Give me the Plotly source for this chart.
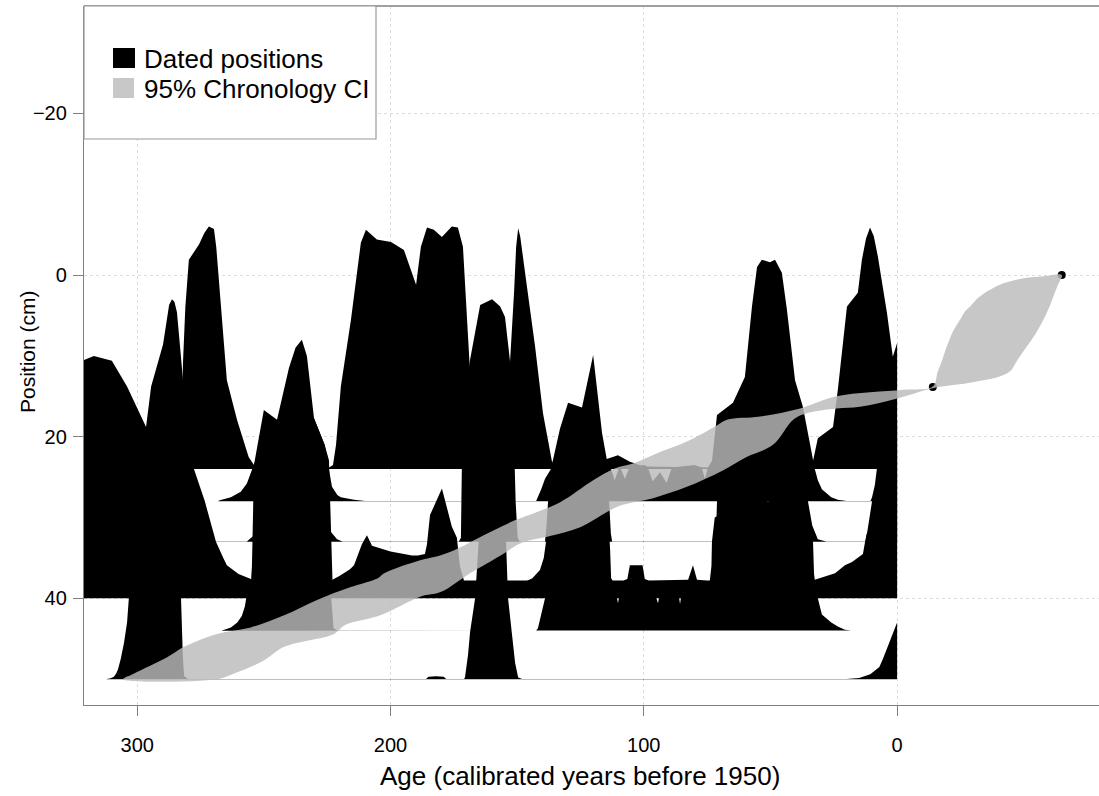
import plotly.graph_objects as go

# ---------------- data ----------------
# Dated positions (cm) and their calibrated-age densities.
# Each list holds (age in cal yr BP, density height in cm of plot units).
date_positions = [24, 28, 33, 38, 40, 44, 50]

dens_24 = [(321, 0.03), (284, 0.03), (282.5, 6), (281.9, 13.3), (281, 20), (279.6, 25.9), (275.6, 27.8),
           (273.5, 29.2), (271.7, 30), (269.7, 29.7), (268.8, 27.5), (267.7, 23.4), (264.6, 11),
           (260.6, 6.1), (256, 1.5), (253.5, 0.3), (251, 0.03), (225, 0.03), (222.7, 0.5), (221.5, 3),
           (219.6, 10.2), (215.6, 18.5), (211.7, 28), (209.7, 29.6), (205.4, 28.4), (199.8, 28.1),
           (194.7, 27.1), (189.9, 22.8), (188.0, 27.5), (185.6, 29.9), (182.9, 29.6), (179.7, 28.7),
           (175.8, 30), (173.4, 29.9), (171.4, 27.5), (168.6, 12), (166, 4), (163, 1), (156, 0.5),
           (154.5, 1), (152.8, 13.3), (151.2, 22), (150.4, 27.5), (149.6, 29.8), (148.8, 28.8),
           (146.1, 22.5), (142.9, 15.1), (139.8, 6.9), (136.3, 1), (135, 0.3), (133, 0.03),
           (118, 0.03), (116.1, 1.1), (110.2, 1.7), (105.5, 0.9), (100, 0.3), (75, 0.2), (34.5, 0.03),
           (33.2, 1.0), (31.3, 3.8), (25.3, 5.2), (23.4, 9.8), (19.8, 20.1), (15.5, 21.8), (13.9, 25.9),
           (12.3, 28.5), (10.7, 29.9), (9.2, 28.8), (7.6, 26.3), (4.0, 19.3), (1.7, 13.9), (0, 15.6)]

dens_28 = [(268, 0.03), (267.4, 0.15), (263, 0.5), (259.1, 1.2), (256.7, 2.2), (255.1, 3.5), (254, 4.5),
           (250, 8), (240, 10), (235, 12), (230.2, 10.3), (226, 7), (224.3, 4.2), (223.1, 1.8),
           (221, 0.8), (219.6, 0.5), (214.4, 0.2), (210, 0.03), (142.5, 0.03), (141.8, 0.5), (140.5, 1.5),
           (139, 2.8), (137.5, 3.6), (136.3, 4.2), (133, 4.8), (124, 5), (116.5, 5), (113.5, 4.6),
           (111.5, 2.6), (109.5, 4.4), (107.5, 2.8), (105.5, 4.3), (99.6, 4.5), (98.4, 4.2), (96.5, 2.5),
           (93.6, 3.6), (91, 2.3), (88.9, 4.2), (80, 4.5), (77.1, 4.2), (75.9, 2.8), (74.7, 4.2),
           (73.1, 5), (71.9, 8), (71.1, 10.7), (64.8, 12.2), (60.1, 15.4), (57.3, 24.1), (55.3, 29),
           (53.4, 29.9), (50.2, 29.6), (48.2, 29.9), (45.5, 28.3), (43.5, 23.7), (40.3, 15), (37.2, 11.7),
           (33.2, 5.1), (32.5, 4), (31.3, 2.6), (29.7, 1.5), (26, 0.5), (23.4, 0.2), (20, 0.03),
           (10.5, 0.03), (9.9, 0.5), (8.8, 2), (8.0, 4), (7, 6), (4, 8), (0, 10)]

dens_33 = [(321, 2), (310, 3), (304, 6), (296.5, 14.2), (294.5, 19.2), (289.8, 24.4), (287.4, 29.3),
           (286.3, 30), (285.3, 29.7), (284.3, 28.4), (283.5, 25.6), (282.7, 23), (281.9, 20), (281, 12),
           (280, 6), (277.6, 4), (274, 2), (272, 0.3), (270, 0.03), (256.7, 0.03), (254.7, 0.6),
           (252.8, 1.1), (251.6, 3), (251.2, 5), (248, 8), (240, 10), (230, 9), (228.2, 5), (225, 2.5),
           (223.5, 1.2), (221.1, 0.3), (219, 0.03), (173, 0.03), (172.2, 0.5), (171.8, 10), (170.5, 18),
           (168.6, 22.5), (166.6, 25.8), (164.6, 29.3), (159.9, 30), (156.7, 29.1), (154.8, 27.8),
           (152.8, 22.3), (151.2, 12), (150.6, 5), (149.8, 0.5), (149, 0.03), (139, 0.03), (138.4, 2),
           (137.8, 5), (136.3, 9.5), (133.1, 14), (129.9, 17.2), (124.4, 16.6), (122, 20), (120, 23.1),
           (116.5, 13.5), (114.5, 10), (113.7, 5), (113.0, 1), (112.5, 0.03), (71.6, 0.03), (71.1, 5),
           (70, 8), (60, 10), (52, 8), (51, 3.4), (50, 8), (40, 9), (35.2, 5), (33.5, 2), (31.3, 0.3),
           (28, 0.03), (12.5, 0.03), (11.9, 1), (10.5, 4), (9.9, 5), (8, 7), (0, 9)]

dens_38 = [(321, 1), (290, 1), (275, 0.5), (260, 0.03), (255.1, 0.03), (254.7, 2), (254.3, 8),
           (253.9, 14.5), (250, 21.3), (244.8, 20.1), (240.1, 26.5), (237.5, 29), (235, 30), (233, 28),
           (230.2, 20.3), (226, 17), (224.3, 15.1), (223.7, 8), (223.3, 2), (222.9, 0.2), (220, 0.03),
           (147, 0.03), (144, 0.5), (141, 1.5), (139.5, 3), (138.6, 5), (136, 8), (125, 10), (118, 10),
           (114, 8), (113.3, 4), (112.9, 0.5), (112, 0.03), (74, 0.03), (73.3, 2), (73.1, 5), (72, 8),
           (60, 10), (45, 10), (36, 8), (33.5, 6), (33.2, 5), (32.8, 1), (32.5, 0.3), (24.5, 1.1),
           (20.6, 2.1), (17.8, 2.5), (13.5, 3.5), (12.7, 4.9), (12, 6), (8, 8), (0, 10)]

dens_40 = [(321, 29.5), (317.1, 30), (310, 29.4), (304, 26.2), (296.5, 21.2), (290, 19.5), (282, 18),
           (277.6, 16), (273.3, 12), (268.9, 7), (266, 5), (264.6, 4.1), (260, 3), (255.1, 2.4),
           (245, 2.3), (230, 2.2), (223.5, 2.2), (220, 2.8), (216, 3.6), (214.4, 4.1), (211.3, 6.7),
           (209.3, 7.8), (207.3, 6.5), (200, 5.8), (191.5, 5.3), (189.2, 5.3), (186.4, 5.5),
           (185.6, 6.7), (184.4, 10.3), (179.7, 13.6), (175.8, 8.9), (173.8, 7.5), (172.6, 4), (171, 2.2),
           (108, 2.2), (106.5, 2.4), (105.5, 4.1), (100.5, 4.1), (99.6, 2.4), (98, 2.2), (82.5, 2.3),
           (80.6, 4.1), (79, 2.3), (75, 2.2), (0, 2.2)]

dens_44 = [(266.5, 0.03), (265.8, 0.1), (263, 0.4), (260.5, 1.0), (258.7, 1.8), (257.5, 3), (256.7, 4.5),
           (255, 6), (250, 8), (240, 9), (230, 8), (225, 6), (223.5, 4.5), (222.9, 2), (222.5, 0.3),
           (221, 0.03), (142.5, 0.03), (141.8, 0.3), (140.8, 1.5), (139.6, 3), (139, 4), (137, 5),
           (125, 5.5), (113, 5), (111, 4.8), (110.2, 3.4), (109.4, 4.8), (96, 5), (94.4, 3.4), (93.5, 5),
           (86.5, 5), (85.7, 3.3), (84.9, 5), (60, 6), (40, 6), (33, 5), (31.3, 4), (29.7, 2), (26, 1),
           (23.4, 0.5), (20.6, 0.1), (18, 0.03), (0, 0.03)]

dens_50 = [(312, 0.03), (310.5, 0.1), (309.2, 0.3), (308.3, 0.7), (307.6, 1.2), (306.5, 2.5), (305.2, 4.5),
           (304, 7), (303.3, 10), (300, 18), (295, 26), (291, 30), (287, 27), (284.5, 20), (283.3, 13),
           (282.7, 10), (282.0, 3), (281.5, 0.4), (280, 0.03), (186, 0.03), (185, 0.3), (182, 0.35),
           (179, 0.3), (178, 0.03), (171, 0.03), (170.6, 0.2), (169.4, 3), (168.6, 5.8), (166.6, 10),
           (165, 18), (163, 25), (160, 28), (156, 26), (154.5, 18), (153.6, 10), (152.5, 6.5),
           (151.6, 4.5), (150.8, 2), (149.6, 0.2), (148, 0.03), (20, 0.03), (15, 0.15), (10.6, 0.6),
           (7, 1.5), (5.5, 2.6), (3, 4.5), (1, 6), (0, 7)]

date_densities = [dens_24, dens_28, dens_33, dens_38, dens_40, dens_44, dens_50]

# Known-age points (age, position)
known_ages = [-65, -14.1]
known_positions = [0, 13.85]

# 95% chronology interval: (position, age) along the old and young edges
ci_old_edge = [(0, -65), (0.15, -58), (0.4, -50), (1.0, -42), (1.8, -36.7), (2.8, -32), (3.9, -28.8),
               (4.5, -26.8), (5.5, -24.9), (7.0, -22), (8.85, -19.6), (10.5, -17.8), (12.0, -16),
               (13.8, -14.1), (14.2, -2.4), (15.0, 23.9), (16.5, 38.3), (17.5, 54.1), (17.9, 67.2),
               (18.6, 71.2), (20.6, 83), (21.9, 93.6), (23.3, 104.2), (23.9, 111.3), (25.4, 120),
               (28.1, 133), (30.1, 148.8), (30.5, 152), (32.0, 162), (34.1, 175.3), (34.9, 182.8),
               (35.3, 188.3), (36.9, 202.5), (37.5, 205), (38.6, 215.7), (40.2, 229), (42.1, 242),
               (43.6, 255.2), (44.4, 268.5), (46.0, 281.5), (47.3, 288.2), (49.3, 301.2), (50, 305.5)]
ci_young_edge = [(0, -65), (1.2, -63.5), (2.65, -61.7), (4.0, -60), (5.5, -57.8), (7.2, -54.8),
                 (8.85, -51.2), (10.5, -47.5), (11.9, -44.6), (12.6, -40), (13.0, -34.1), (13.4, -27),
                 (13.6, -22), (14.0, -14.1), (15.4, 1.5), (16.3, 14.7), (16.5, 23.9), (17.1, 35.7),
                 (17.9, 41), (21.0, 49), (22.5, 59.4), (24.2, 69), (26.2, 83), (27.6, 96.3), (28.6, 110),
                 (31.2, 125.1), (32.3, 137), (33.2, 148.8), (34.6, 156), (36.9, 168.6), (39.2, 180),
                 (39.8, 188.3), (42.1, 204), (43.3, 217.9), (44.4, 222.3), (46.0, 242), (47.7, 250),
                 (49.3, 261.7), (50, 268.5)]

x_ticks = [300, 200, 100, 0]
y_ticks = [-20, 0, 20, 40]
legend_labels = ["Dated positions", "95% Chronology CI"]
x_title = "Age (calibrated years before 1950)"
y_title = "Position (cm)"

# ---------------- figure ----------------
FONT = "Liberation Sans, Arial, sans-serif"
W, H = 1099, 796
PL, PR, PT, PB = 84, 1099, 6, 705
BAND_COLOR = "rgba(187,187,187,0.82)"

fig = go.Figure()

for pos, pts in zip(date_positions, date_densities):
    ages = [a for a, _ in pts]
    ys = [pos - d for _, d in pts]
    fig.add_trace(go.Scatter(
        x=ages + [ages[-1], ages[0]], y=ys + [pos, pos],
        mode="lines", fill="toself", fillcolor="black",
        line=dict(width=0, color="black"), hoverinfo="skip", showlegend=False))

fig.add_trace(go.Scatter(x=known_ages, y=known_positions, mode="markers",
                         marker=dict(color="black", size=8), hoverinfo="skip", showlegend=False))

band_x = [a for _, a in ci_old_edge] + [a for _, a in reversed(ci_young_edge)]
band_y = [p for p, _ in ci_old_edge] + [p for p, _ in reversed(ci_young_edge)]
fig.add_trace(go.Scatter(x=band_x, y=band_y, mode="lines", fill="toself", fillcolor=BAND_COLOR,
                         line=dict(width=0, color=BAND_COLOR), line_shape="spline",
                         hoverinfo="skip", showlegend=False))


def px_x(px):
    return (px - PL) / (PR - PL)


def px_y(py):
    return (PB - py) / (PB - PT)


x_lo = 321.0
x_hi = -79.7
y_bottom = 53.2
y_top = -33.3

axis_common = dict(showline=True, linecolor="#808080", linewidth=1.3, ticks="outside", ticklen=10,
                   tickcolor="#808080", tickwidth=1.2, showgrid=True, gridcolor="#dcdcdc",
                   griddash="dot", gridwidth=1, zeroline=False,
                   tickfont=dict(family=FONT, size=20, color="black"))

fig.update_layout(
    width=W, height=H, margin=dict(l=PL, r=W - PR, t=PT, b=H - PB),
    paper_bgcolor="white", plot_bgcolor="white", showlegend=False,
    xaxis=dict(range=[x_lo, x_hi], tickvals=x_ticks, ticklabelstandoff=12, **axis_common),
    yaxis=dict(range=[y_bottom, y_top], tickvals=y_ticks, ticklabelstandoff=2, **axis_common),
    font=dict(family=FONT, color="black"),
)

shapes = [
    dict(type="line", xref="paper", yref="paper", x0=0, x1=1, y0=1, y1=1,
         line=dict(color="#808080", width=1.3)),
    dict(type="rect", xref="paper", yref="paper", x0=px_x(84), x1=px_x(376), y0=px_y(139), y1=px_y(6),
         line=dict(color="#999999", width=1.2), fillcolor="white", layer="above"),
    dict(type="rect", xref="paper", yref="paper", x0=px_x(113), x1=px_x(135), y0=px_y(68), y1=px_y(48),
         line=dict(width=0), fillcolor="black", layer="above"),
    dict(type="rect", xref="paper", yref="paper", x0=px_x(113), x1=px_x(134), y0=px_y(98), y1=px_y(78),
         line=dict(width=0), fillcolor="#c8c8c8", layer="above"),
]
annotations = [
    dict(text=legend_labels[0], xref="paper", yref="paper", x=px_x(142), y=px_y(59),
         xanchor="left", yanchor="middle", showarrow=False, font=dict(family=FONT, size=26, color="black")),
    dict(text=legend_labels[1], xref="paper", yref="paper", x=px_x(142), y=px_y(89),
         xanchor="left", yanchor="middle", showarrow=False, font=dict(family=FONT, size=26, color="black")),
    dict(text=x_title, xref="paper", yref="paper", x=px_x(579.5), y=px_y(776),
         xanchor="center", yanchor="middle", showarrow=False, font=dict(family=FONT, size=26, color="black")),
    dict(text=y_title, xref="paper", yref="paper", x=px_x(27), y=px_y(352), textangle=-90,
         xanchor="center", yanchor="middle", showarrow=False, font=dict(family=FONT, size=21, color="black")),
]
fig.update_layout(shapes=shapes, annotations=annotations)

fig.write_html("out.html")
